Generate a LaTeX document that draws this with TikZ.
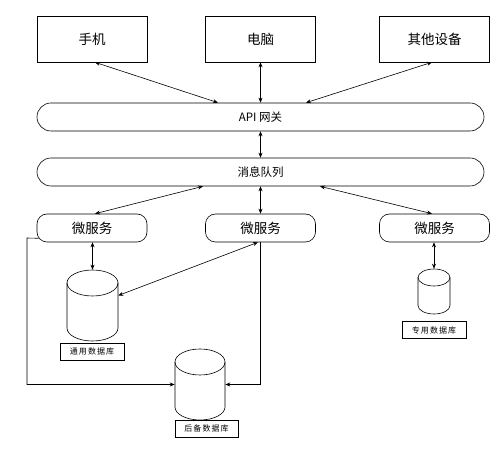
\documentclass[tikz,border=0pt]{standalone}
\usepackage{fontspec}
\setmainfont{Noto Sans CJK SC}
\usetikzlibrary{arrows.meta,calc}
\tikzset{
  every path/.style={line width=0.6pt},
  devbox/.style={draw, minimum width=110pt, minimum height=46pt, inner sep=0pt, font=\fontsize{13.5}{15}\selectfont},
  barbox/.style={draw, rounded corners=14pt, minimum width=447pt, minimum height=28pt, inner sep=0pt, font=\fontsize{11.5}{13}\selectfont},
  msbox/.style={draw, rounded corners=10pt, minimum width=110pt, minimum height=28pt, inner sep=0pt, font=\fontsize{13.5}{15}\selectfont},
  lblbox/.style={draw, minimum height=17pt, inner sep=0pt, font=\fontsize{8}{9}\selectfont\addfontfeature{LetterSpace=12}},
  link/.style={draw, {Stealth[length=5pt,width=4pt]}-{Stealth[length=5pt,width=4pt]}},
  oneway/.style={draw, -{Stealth[length=5pt,width=4pt]}},
}
% #1 name, #2 cx, #3 top, #4 bottom, #5 rx, #6 ry  (y grows downward)
\newcommand\dbcyl[6]{%
  \node[inner sep=0pt, minimum width={2*#5 pt}, minimum height={(#4-#3)*1pt}] (#1) at (#2,{(#3+#4)/2}) {};
  \draw[fill=white] (#2-#5,#3+#6) -- (#2-#5,#4-#6) arc[start angle=180,end angle=360,x radius=#5 pt,y radius=#6 pt] -- (#2+#5,#3+#6);
  \draw (#2,#3+#6) ellipse[x radius=#5 pt, y radius=#6 pt];
}
\begin{document}
\begin{tikzpicture}[x=1pt,y=-1pt]
\useasboundingbox (0,0) rectangle (499,462);
\fill[white] (0,0) rectangle (499,462);

\node[devbox] (phone) at (92,39) {手机};
\node[devbox] (pc) at (260.5,39) {电脑};
\node[devbox] (other) at (434.5,39) {其他设备};

\node[barbox] (api) at (260.5,117) {API 网关};
\node[barbox] (mq) at (260.5,172) {消息队列};

\node[msbox] (ms1) at (92,228) {微服务};
\node[msbox] (ms2) at (260.5,228) {微服务};
\node[msbox] (ms3) at (434.5,228) {微服务};

\dbcyl{db1}{92.5}{270}{341}{25.5}{13}
\dbcyl{bk}{200}{349}{420}{25}{13}
\dbcyl{db3}{434}{269}{314}{16}{8.5}

\node[lblbox, minimum width=64pt] (l1) at (92,351.5) {通用\,数据库};
\node[lblbox, minimum width=63pt] (l2) at (206.5,428.5) {后备\,数据库};
\node[lblbox, minimum width=64pt] (l3) at (434,330) {专用\,数据库};

% devices <-> API
\path[link] ([xshift=3pt]phone.south) -- ([xshift=-42.5pt]api.north);
\path[link] (pc.south) -- (api.north);
\path[link] ([xshift=-2.5pt]other.south) -- ([xshift=45.5pt]api.north);
% API <-> MQ
\path[link] (api.south) -- (mq.north);
% MQ <-> microservices
\path[link] ([xshift=-57.5pt]mq.south) -- ([xshift=3pt]ms1.north);
\path[link] (mq.south) -- (ms2.north);
\path[link] ([xshift=59.5pt]mq.south) -- ([xshift=-2.5pt]ms3.north);
% microservices <-> databases
\path[link] (ms1.south -| db1.north) -- (db1.north);
\path[link] ([xshift=-2.5pt]ms2.south) -- ([yshift=10pt]db1.east);
\path[link] (ms3.south -| db3.north) -- (db3.north);
% backup lines
\coordinate (c1) at (27,238);
\path[oneway] ([xshift=2pt,yshift=4pt]ms1.south west) -- (c1) -- (c1 |- bk.west) -- (bk.west);
\path[oneway] (ms2.south) -- (ms2.south |- bk.east) -- (bk.east);
\end{tikzpicture}
\end{document}
